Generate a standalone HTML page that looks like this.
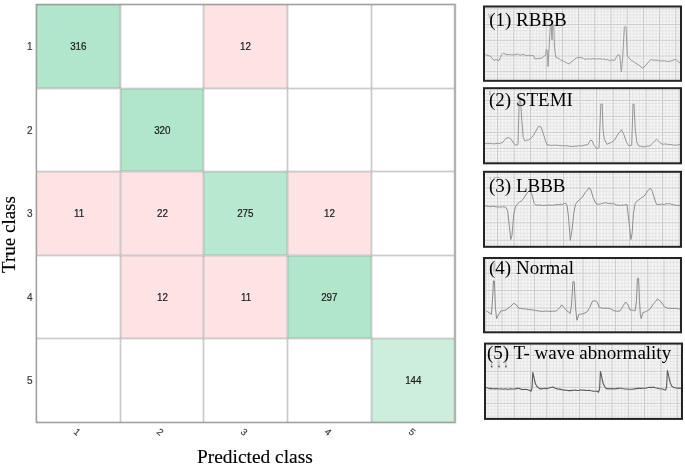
<!DOCTYPE html>
<html><head><meta charset="utf-8">
<style>
html,body{margin:0;padding:0;background:#fff;width:685px;height:467px;overflow:hidden;position:relative}
body{font-family:"Liberation Sans",sans-serif}
.cell{position:absolute;box-sizing:border-box;font-size:10px;color:#1a1a1a;display:flex;align-items:center;justify-content:center}
.cell span{position:relative;top:1.2px;left:0.8px;transform:scaleX(0.98);display:inline-block;line-height:1;-webkit-text-stroke:0.2px #1a1a1a}
.g{background:#b2e6ca}
.g2{background:#b8e8cf}
.lg{background:#cdeedc}
.p{background:#fee3e4}
.vl{position:absolute;width:1px;background:#cbcbcb;top:5px;height:417px;box-shadow:-1px 0 0 rgba(0,0,0,0.075),1px 0 0 rgba(0,0,0,0.075)}
.hl{position:absolute;height:1px;background:#cbcbcb;left:37px;width:417px;box-shadow:0 -1px 0 rgba(0,0,0,0.075),0 1px 0 rgba(0,0,0,0.075)}
.bx{position:absolute;background:#a0a0a0}
.bx2{position:absolute;background:#b2b2b2}
.yt{position:absolute;font-size:10px;line-height:10px;color:#3a3a3a;width:20px;text-align:right;left:12.6px;-webkit-text-stroke:0.2px #3a3a3a}
.xt{position:absolute;width:0;height:0}
.xt span{position:absolute;left:0;top:0;font-size:9.5px;line-height:9.5px;color:#3a3a3a;transform:translate(-50%,-50%) rotate(40deg);white-space:nowrap;-webkit-text-stroke:0.2px #3a3a3a}
.serif{font-family:"Liberation Serif",serif;color:#000;-webkit-text-stroke:0.15px #000}
.panel{position:absolute;box-sizing:border-box;border:2px solid #1a1a1a;background:#fafafa;overflow:hidden}
.lbl{position:absolute;font-family:"Liberation Serif",serif;font-size:19px;color:#000;white-space:nowrap;line-height:1;transform-origin:0 0}
</style></head><body style="filter:blur(0.4px)">
<!-- matrix cells -->
<div class="cell g" style="left:36px;top:4px;width:84px;height:84px"><span>316</span></div>
<div class="cell p" style="left:203px;top:4px;width:84px;height:84px"><span>12</span></div>
<div class="cell g" style="left:120px;top:88px;width:83px;height:83px"><span>320</span></div>
<div class="cell p" style="left:36px;top:171px;width:84px;height:84px"><span>11</span></div>
<div class="cell p" style="left:120px;top:171px;width:83px;height:84px"><span>22</span></div>
<div class="cell g2" style="left:203px;top:171px;width:84px;height:84px"><span>275</span></div>
<div class="cell p" style="left:287px;top:171px;width:84px;height:84px"><span>12</span></div>
<div class="cell p" style="left:120px;top:255px;width:83px;height:83px"><span>12</span></div>
<div class="cell p" style="left:203px;top:255px;width:84px;height:83px"><span>11</span></div>
<div class="cell g" style="left:287px;top:255px;width:84px;height:83px"><span>297</span></div>
<div class="cell lg" style="left:371px;top:338px;width:84px;height:84px"><span>144</span></div>
<!-- grid lines -->
<div class="vl" style="left:120px"></div>
<div class="vl" style="left:203px"></div>
<div class="vl" style="left:287px"></div>
<div class="vl" style="left:371px"></div>
<div class="hl" style="top:88px"></div>
<div class="hl" style="top:171px"></div>
<div class="hl" style="top:255px"></div>
<div class="hl" style="top:338px"></div>
<div class="bx" style="left:36px;top:4px;width:420px;height:1px;box-shadow:0 -1px 0 rgba(0,0,0,0.11),0 1px 0 rgba(0,0,0,0.11)"></div>
<div class="bx" style="left:36px;top:422px;width:420px;height:1px;box-shadow:0 -1px 0 rgba(0,0,0,0.11),0 1px 0 rgba(0,0,0,0.11)"></div>
<div class="bx" style="left:36px;top:4px;width:1px;height:419px;box-shadow:-1px 0 0 rgba(0,0,0,0.15),1px 0 0 rgba(0,0,0,0.06)"></div>
<div class="bx2" style="left:454px;top:4px;width:2px;height:419px;box-shadow:-1px 0 0 rgba(0,0,0,0.05),1px 0 0 rgba(0,0,0,0.06)"></div>
<!-- y ticks -->
<div class="yt" style="top:42.2px">1</div>
<div class="yt" style="top:125.7px">2</div>
<div class="yt" style="top:209.2px">3</div>
<div class="yt" style="top:292.7px">4</div>
<div class="yt" style="top:376.2px">5</div>
<!-- x ticks -->
<div class="xt" style="left:76.7px;top:432px"><span>1</span></div>
<div class="xt" style="left:160.2px;top:432px"><span>2</span></div>
<div class="xt" style="left:243.7px;top:432px"><span>3</span></div>
<div class="xt" style="left:327.7px;top:432px"><span>4</span></div>
<div class="xt" style="left:411.7px;top:432px"><span>5</span></div>
<!-- axis titles -->
<div class="serif" style="position:absolute;left:197px;top:446.8px;font-size:19.4px;line-height:1;white-space:nowrap">Predicted class</div>
<div class="serif" style="position:absolute;left:-1px;top:273px;font-size:19px;line-height:1;white-space:nowrap;transform:rotate(-90deg);transform-origin:0 0">True class</div>
<!-- panels -->
<svg style="position:absolute;left:0;top:0" width="685" height="467" viewBox="0 0 685 467">
<defs>
<clipPath id="c0"><rect x="483" y="5.5" width="199" height="76.3"/></clipPath>
<pattern id="m0" patternUnits="userSpaceOnUse" x="497.1" y="24.1" width="16.2" height="15.7"><rect width="16.2" height="15.7" fill="#f8f8f8"/><rect x="3.24" width="0.8" height="15.7" fill="#e0e0e0"/><rect y="3.14" width="16.2" height="0.8" fill="#e0e0e0"/><rect x="6.48" width="0.8" height="15.7" fill="#e0e0e0"/><rect y="6.28" width="16.2" height="0.8" fill="#e0e0e0"/><rect x="9.72" width="0.8" height="15.7" fill="#e0e0e0"/><rect y="9.42" width="16.2" height="0.8" fill="#e0e0e0"/><rect x="12.96" width="0.8" height="15.7" fill="#e0e0e0"/><rect y="12.56" width="16.2" height="0.8" fill="#e0e0e0"/><rect width="1" height="15.7" fill="#c6c6c6"/><rect width="16.2" height="1" fill="#cccccc"/></pattern>
<clipPath id="c1"><rect x="483" y="87.2" width="199" height="77.1"/></clipPath>
<pattern id="m1" patternUnits="userSpaceOnUse" x="596.1" y="99.9" width="16.5" height="16"><rect width="16.5" height="16" fill="#f8f8f8"/><rect x="3.30" width="0.8" height="16" fill="#e0e0e0"/><rect y="3.20" width="16.5" height="0.8" fill="#e0e0e0"/><rect x="6.60" width="0.8" height="16" fill="#e0e0e0"/><rect y="6.40" width="16.5" height="0.8" fill="#e0e0e0"/><rect x="9.90" width="0.8" height="16" fill="#e0e0e0"/><rect y="9.60" width="16.5" height="0.8" fill="#e0e0e0"/><rect x="13.20" width="0.8" height="16" fill="#e0e0e0"/><rect y="12.80" width="16.5" height="0.8" fill="#e0e0e0"/><rect width="1" height="16" fill="#c6c6c6"/><rect width="16.5" height="1" fill="#cccccc"/></pattern>
<clipPath id="c2"><rect x="483" y="170.8" width="199" height="77"/></clipPath>
<pattern id="m2" patternUnits="userSpaceOnUse" x="596.1" y="187.5" width="16.5" height="17.4"><rect width="16.5" height="17.4" fill="#f8f8f8"/><rect x="3.30" width="0.8" height="17.4" fill="#e0e0e0"/><rect y="3.48" width="16.5" height="0.8" fill="#e0e0e0"/><rect x="6.60" width="0.8" height="17.4" fill="#e0e0e0"/><rect y="6.96" width="16.5" height="0.8" fill="#e0e0e0"/><rect x="9.90" width="0.8" height="17.4" fill="#e0e0e0"/><rect y="10.44" width="16.5" height="0.8" fill="#e0e0e0"/><rect x="13.20" width="0.8" height="17.4" fill="#e0e0e0"/><rect y="13.92" width="16.5" height="0.8" fill="#e0e0e0"/><rect width="1" height="17.4" fill="#c6c6c6"/><rect width="16.5" height="1" fill="#cccccc"/></pattern>
<clipPath id="c3"><rect x="483" y="257" width="199" height="76.3"/></clipPath>
<pattern id="m3" patternUnits="userSpaceOnUse" x="598.7" y="272.7" width="16.2" height="17.4"><rect width="16.2" height="17.4" fill="#f8f8f8"/><rect x="3.24" width="0.8" height="17.4" fill="#e0e0e0"/><rect y="3.48" width="16.2" height="0.8" fill="#e0e0e0"/><rect x="6.48" width="0.8" height="17.4" fill="#e0e0e0"/><rect y="6.96" width="16.2" height="0.8" fill="#e0e0e0"/><rect x="9.72" width="0.8" height="17.4" fill="#e0e0e0"/><rect y="10.44" width="16.2" height="0.8" fill="#e0e0e0"/><rect x="12.96" width="0.8" height="17.4" fill="#e0e0e0"/><rect y="13.92" width="16.2" height="0.8" fill="#e0e0e0"/><rect width="1" height="17.4" fill="#c6c6c6"/><rect width="16.2" height="1" fill="#cccccc"/></pattern>
<clipPath id="c4"><rect x="484" y="342.6" width="199" height="77.3"/></clipPath>
<pattern id="m4" patternUnits="userSpaceOnUse" x="497.4" y="370.8" width="16.3" height="16"><rect width="16.3" height="16" fill="#f8f8f8"/><rect x="3.26" width="0.8" height="16" fill="#e0e0e0"/><rect y="3.20" width="16.3" height="0.8" fill="#e0e0e0"/><rect x="6.52" width="0.8" height="16" fill="#e0e0e0"/><rect y="6.40" width="16.3" height="0.8" fill="#e0e0e0"/><rect x="9.78" width="0.8" height="16" fill="#e0e0e0"/><rect y="9.60" width="16.3" height="0.8" fill="#e0e0e0"/><rect x="13.04" width="0.8" height="16" fill="#e0e0e0"/><rect y="12.80" width="16.3" height="0.8" fill="#e0e0e0"/><rect width="1" height="16" fill="#c6c6c6"/><rect width="16.3" height="1" fill="#cccccc"/></pattern>
</defs>
<g clip-path="url(#c0)">
<rect x="483" y="5.5" width="199" height="76.3" fill="url(#m0)"/>
<polyline points="485.4,54.6 488,55.5 489.7,56 491.4,57.2 494,60.6 496,59.5 499,60.6 501.7,54.6 503.4,52.9 506,54.6 507.8,54.7 509.6,54.5 511.4,54.9 513.2,54.9 515,54.8 516.7,54.2 518.3,54.2 520,55.4 521.7,54.6 523.3,54.6 525,55 526.7,55.8 528.4,55.2 530.1,55.8 531.8,55.4 533.5,55.5 535,59 538,58.5 540,58.4 542,58 543.8,56.3 545.5,55.5 546.3,49.5 547.2,50 548,66.6 549.5,40 550.4,25 551.2,24.5 552,40 552.6,25 553.8,25 554.4,45 554.8,50 555.8,57.2 557.4,58 559,58.5 560.8,60.1 562.6,60.6 564.3,61.5 566,62.6 567.8,63.4 569.5,64 571.2,61.7 572.9,61 574.6,59 576.3,58.2 578,57.2 580,57.5 582,57.7 584,59 585.8,59.4 587.6,58.8 589.4,59 591.2,59.1 593,58.5 594.6,58.9 596.2,59.2 597.8,58.5 599.5,59.1 601.1,58.7 602.7,59.5 604.3,58.9 606,60 607.7,59.5 609.4,60.6 611.1,60.1 612.9,60.2 614.6,60.6 616.3,57.2 618,54.6 619.7,55.5 621.4,71.8 622.8,55 624.3,27.5 625.2,26.3 626,27.5 627.3,55.5 630,59 631.8,60.9 633.5,61.4 635.2,62.9 637,64 639,65.2 641,66.9 643,68.3 645,66 647,64 648.8,61.6 650.6,59.7 652.7,60 654.9,60.2 657,60.2 658.8,60.9 660.6,60.7 662.5,61.1 664.3,60.6 666.2,61.2 668.1,61.6 670,61 672.1,60.8 674.2,59.7 676.3,59.7 678.5,62 680.6,63.2" fill="none" stroke="#9a9a9a" stroke-width="1.0" stroke-linejoin="round"/>
</g>
<rect x="484" y="6.5" width="197" height="74.3" fill="none" stroke="#242424" stroke-width="2"/>
<g clip-path="url(#c1)">
<rect x="483" y="87.2" width="199" height="77.1" fill="url(#m1)"/>
<polyline points="484.6,143.5 486.2,143.6 487.8,143.4 489.5,143.6 491.1,143.3 492.7,143.8 494.3,143.8 496,143.6 497.6,143.2 499.2,143.5 500.9,143.1 502.6,142.6 504.3,140.3 506,138.3 508.6,137.5 511.2,139.2 513.7,143.5 516.3,145.2 518,144.5 519.2,101 520.6,101 521.8,120.3 523.2,137.5 524.9,140.9 526.6,140.2 528.3,140 530,139.1 531.7,137.5 533.5,135.3 535.2,132.3 538.6,126.3 541.2,127.2 542.9,132.3 545.5,140.9 547.2,145.2 548.9,144.8 550.6,145.5 552.3,145.3 554,145.2 555.7,145.2 557.5,145.2 559.2,145.6 560.9,145.6 562.6,145.8 564.3,145.9 566.1,145.6 567.8,146 569.6,146.3 571.4,146.5 573.2,146.5 575,146.2 576.8,146.2 578.5,145.7 580.2,145.7 582,146 584,145.1 586,145.2 588,144.3 590.6,140 592.2,140.8 594,145.2 596.6,148.6 599,147.7 600.9,104 602.2,104 603,128.9 604.3,139.2 606.9,144.3 609,143.3 611.2,142.6 612.9,141.2 614.6,140 618,134 619.8,132.2 621.5,129.7 624,134.9 626.6,142.6 629.2,146 631.7,145.2 633,104 634,104 635.2,128.9 636.9,142.6 638.6,146 640.3,146.2 642,146.6 643.7,146.9 645.7,146.5 647.8,146 649.8,146 651.9,143.9 654,141.7 656.6,139.2 659.2,141.7 660.9,143.3 662.6,144.3 664.3,144 666.1,144.1 667.8,144.3 669.5,144.5 671.2,144.4 672.9,145 674.6,145.2 676.6,145.2 678.6,144.7 680.6,144.3" fill="none" stroke="#959595" stroke-width="1.0" stroke-linejoin="round"/>
</g>
<rect x="484" y="88.2" width="197" height="75.1" fill="none" stroke="#242424" stroke-width="2"/>
<g clip-path="url(#c2)">
<rect x="483" y="170.8" width="199" height="77" fill="url(#m2)"/>
<polyline points="484.6,206 486.5,206.1 488.5,206.5 490.4,206.7 492.3,206.4 494,206.3 495.8,206.9 497.5,207 499.2,206.9 500.9,207.2 502.6,206.8 504.3,206.8 506,207.4 507.7,211.2 509.4,226.6 510.8,239.5 512,235.2 513.7,214.6 515.4,206.9 518,203.4 519.7,201.9 521.5,200.8 523.2,199.2 527.5,192.3 530,190.6 531.7,194 534.3,203.4 536,205.2 537.6,205 539.2,205.2 540.9,205 542.5,205.5 544.1,205.6 545.7,205.1 547.4,205.6 549,204.8 550.6,205.2 552.3,205.3 554.1,205.2 555.8,204.4 557.5,204.8 559.3,204.5 561,204.3 562.7,204.4 564.3,203.4 566,203.4 567.2,206 568.6,218 570.3,240.3 572,230 573.8,212.9 575.5,204.3 578,200.9 580.1,199.2 582.3,197.4 585.4,192.3 587.1,190.5 588.9,188 590.6,188.9 593.1,197.4 595.7,203.4 598.3,204.3 600.3,204 602.3,203.3 604.3,203 606.2,202.7 608.1,203.6 609.9,203.2 611.8,203.8 613.7,203.4 616.3,205.2 618,204.9 619.8,205.5 621.5,205.2 623.3,205.2 625.2,205 627,204.3 628,212.9 629.7,228.3 630.9,239.5 632.1,233.5 633.5,212.9 635.2,203.4 636.9,201.3 638.6,200 640.3,198.8 642,197.3 643.7,196.6 648,190.6 650.3,188 652.3,191.4 654.9,200 656.6,204.3 658.6,204.5 660.6,204.2 662.6,204.3 664.3,204.5 666,203.7 667.8,203.9 669.5,203.4 671.2,204.3 672.9,204.4 674.6,205.2 676.6,205.3 678.6,205.6 680.6,205.2" fill="none" stroke="#8e8e8e" stroke-width="1.0" stroke-linejoin="round"/>
</g>
<rect x="484" y="171.8" width="197" height="75" fill="none" stroke="#242424" stroke-width="2"/>
<g clip-path="url(#c3)">
<rect x="483" y="257" width="199" height="76.3" fill="url(#m3)"/>
<polyline points="486.3,310.9 488.9,312.6 491.4,314.3 492.5,300 493.5,280.9 494.4,280.9 495.4,307.5 496.6,318.6 498.3,315.2 500.9,310.9 502.6,310.7 504.3,310.4 506,310 508.1,308.2 510.3,306.6 512,305.1 513.7,303.2 516.3,304.9 518.9,308.3 520.8,308.4 522.8,308.8 524.7,308.8 526.6,309.2 528.3,309.5 530,309.5 531.8,309.9 533.5,310 535.2,310.4 536.9,310.7 538.6,310.9 540.3,311.2 542,311.3 543.7,311.4 545.5,311 547.2,311.2 548.9,311.4 550.6,311.3 552.4,311.2 554.1,311.1 555.8,311.2 557.5,309.9 559.2,308.3 561.8,304.9 564,307.5 566.9,310.9 568.6,312 570.3,313.5 571.5,305 572.9,281.7 574.2,281.7 575.5,307.5 576.9,320.3 578.9,314.3 580.6,314.1 582.3,313.9 584,313.5 587.1,311.7 589.7,307.5 592.3,301.5 594.9,300.6 597.4,302.3 599.2,307.5 600.9,307.8 602.6,308.3 604.3,308.2 606,308.2 607.7,308.3 609.4,308.3 611.1,309.1 612.9,310.2 614.6,310.9 616.3,311.2 618,311 619.7,311.2 621.5,308.6 623.2,305.7 625.7,302 628,304.9 630,310 631.7,310.1 633.5,310.4 635.2,310.9 636.5,300.6 637.4,278.3 638.6,278.3 639.5,300.6 640.3,314.3 641.2,318.6 642.9,312.6 645.5,311.7 647.6,310.5 649.8,309.2 654,303.2 655.8,301.2 657.5,298.9 659.2,300.3 660.9,301.5 662.6,304.2 664.3,306.6 666,307.6 667.8,308.3 669.5,308.2 671.2,308.4 672.9,308.5 674.6,308.3 676.6,308.4 678.6,308.9 680.6,309.2" fill="none" stroke="#8a8a8a" stroke-width="1.0" stroke-linejoin="round"/>
</g>
<rect x="484" y="258" width="197" height="74.3" fill="none" stroke="#242424" stroke-width="2"/>
<g clip-path="url(#c4)">
<rect x="484" y="342.6" width="199" height="77.3" fill="url(#m4)"/>
<polyline points="484.7,387.7 486.9,387.8 489.2,388.6 491,388.4 492.8,388.7 494.6,388.9 496.4,388.6 498.2,388.7 500,389 501.8,388.8 503.6,389.2 505.4,388.8 507.2,389.2 509,389.1 510.8,388.7 512.6,389 514.4,389 516.2,388.6 518,388.2 519.8,388.6 521.6,389.4 523.4,389.5 525.2,389.4 527,389.5 528.8,390 531,391.3 532,388 532.8,372.4 533.6,375.5 534.5,380 535.5,384 537,386.5 539.6,388.6 541.4,388.9 543.2,388.5 545,388.4 546.8,388.6 548.9,388 550.9,387.5 553,387.1 555.2,388.3 557.5,388.9 559.3,389.1 561.2,389.4 563,390 564.8,390.1 566.6,390.2 568.4,390.6 570.2,390.6 572,390.4 573.7,390.2 575.4,390.1 577.1,390.5 578.9,390.5 580.6,389.8 582.3,390.2 584,390 585.8,390.4 587.5,390.5 589.2,390.3 591,390.7 593.1,391.1 595.2,391.3 597.3,391.3 598.5,392.2 599.6,389 600.4,371.5 601.2,374.5 602.1,379 603.2,383.5 604.6,386.5 606.3,388.6 607.9,388.5 609.5,388.9 611.2,388.6 612.8,388.6 614.4,389 616.2,388.6 618,388.4 619.8,388.2 621.6,388.3 623.4,388.7 625.2,389 627,389 628.8,389.2 630.6,389.2 632.4,389.1 634.2,388.9 636,388.6 637.8,388.4 639.6,388.2 641.4,388.4 643.2,388.3 645,388.2 646.6,388.1 648.2,387.5 649.8,387.3 651.4,387.6 653,387.1 655.2,387.7 657.5,388.2 659.6,388.8 661.7,388.8 663.8,389.5 665.6,390 666.6,387 667.4,370.6 668.2,373.5 669.1,378 670.2,382.5 671.6,385.9 673.7,387.7 675.3,387.7 676.9,388.2 678.6,388.1 680.2,388.4 681.8,388.2" fill="none" stroke="#5a5a5a" stroke-width="1.1" stroke-linejoin="round"/>
</g>
<rect x="485" y="343.6" width="197" height="75.3" fill="none" stroke="#242424" stroke-width="2"/>
<rect x="491.3" y="360.5" width="0.8" height="4.5" fill="#aaa"/><rect x="490.9" y="365.6" width="1.6" height="1.8" fill="#555"/><rect x="498.6" y="360.5" width="0.8" height="4.5" fill="#aaa"/><rect x="498.2" y="365.6" width="1.6" height="1.8" fill="#555"/><rect x="505.5" y="360.5" width="0.8" height="4.5" fill="#aaa"/><rect x="505.09999999999997" y="365.6" width="1.6" height="1.8" fill="#555"/><path d="M488.4,13.5 L490,18.6 L491.3,13.8" fill="none" stroke="#aaa" stroke-width="0.9"/><rect x="489.4" y="90.7" width="1" height="4.8" fill="#999"/><path d="M489.5,177 L491,180 M491.5,182 Q494,176.5 497,177 Q500.5,177.5 500.8,179" fill="none" stroke="#aaa" stroke-width="0.9"/><rect x="493.1" y="262.9" width="2.2" height="8.8" fill="#c4c4c4"/>
</svg>
<div class="lbl" style="left:489.2px;top:9.80px;transform:scaleY(1.0)">(1) RBBB</div>
<div class="lbl" style="left:489px;top:89.60px;transform:scaleY(0.99)">(2) STEMI</div>
<div class="lbl" style="left:489px;top:175.50px;transform:scaleY(0.98)">(3) LBBB</div>
<div class="lbl" style="left:489px;top:258.37px;transform:scaleY(1.01)">(4) Normal</div>
<div class="lbl" style="left:487px;top:342.90px;transform:scaleY(1.0)">(5) T- wave abnormality</div>
</body></html>
